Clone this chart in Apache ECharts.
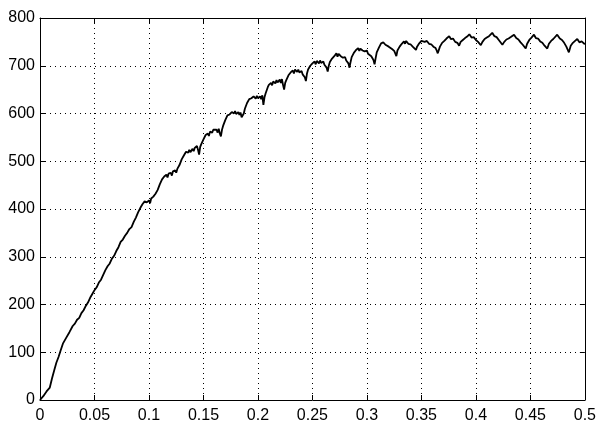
<!DOCTYPE html>
<html>
<head>
<meta charset="utf-8">
<script src="https://cdn.jsdelivr.net/npm/echarts@6/dist/echarts.min.js"></script>
<style>
html,body{margin:0;padding:0;background:#fff;}
#chart{width:599px;height:426px;}
</style>
</head>
<body>
<div id="chart"></div>
<script>
var xTicks = [0, 0.05, 0.1, 0.15, 0.2, 0.25, 0.3, 0.35, 0.4, 0.45, 0.5];
var yTicks = [0, 100, 200, 300, 400, 500, 600, 700, 800];
var timeValues = [
0,0.003,0.006,0.009,0.011,0.013,0.015,0.017,0.019,0.021,0.024,0.027,0.030,0.032,0.034,0.036,0.038,0.040,0.042,0.044,0.046,0.048,0.050,0.052,0.054,0.056,0.058,0.060,0.062,0.064,0.066,0.068,0.070,0.072,0.074,0.076,0.078,0.080,0.082,0.084,0.086,0.088,0.090,0.092,
0.094,0.096,0.097,0.098,0.100,0.101,0.102,0.104,0.106,0.108,0.110,0.112,0.114,0.116,0.117,0.118,0.120,0.121,0.122,0.124,0.125,0.126,0.128,0.130,0.132,0.134,0.136,0.137,0.138,0.140,0.141,0.142,0.144,0.145,0.146,0.147,0.148,0.150,0.152,0.154,0.155,0.156,0.158,0.159,0.160,0.162,0.163,0.164,0.165,0.166,0.167,0.168,0.170,0.172,0.174,0.175,0.176,0.178,0.179,0.180,0.182,0.183,0.184,0.185,0.186,0.187,0.188,0.190,0.192,0.194,0.195,0.196,0.198,0.199,0.200,0.202,0.203,0.204,0.205,0.206,0.207,0.209,0.210,0.212,0.213,0.214,0.216,0.217,0.218,0.220,0.221,0.222,0.223,0.224,0.225,0.226,0.228,0.230,0.232,0.233,0.234,0.236,0.237,0.238,0.240,0.241,0.242,0.243,0.244,0.245,0.246,0.248,0.250,0.252,0.253,0.254,0.256,0.257,0.258,0.260,0.261,0.262,0.263,0.264,0.265,0.266,0.268,0.270,0.272,0.273,0.274,0.276,0.277,0.278,0.280,0.281,0.282,0.283,0.284,0.285,0.286,0.288,0.290,0.292,0.293,0.294,0.296,0.297,0.298,0.300,0.301,0.302,0.304,0.305,0.306,0.307,0.308,0.309,0.311,0.313,0.314,0.315,0.317,0.318,0.320,0.321,0.323,0.325,0.326,0.327,0.328,0.330,0.332,0.334,0.335,0.336,0.338,0.340,0.342,0.343,0.345,0.346,0.348,0.350,0.351,0.353,0.355,0.357,0.359,0.361,0.363,0.364,0.365,0.367,0.369,0.371,0.373,0.3755,0.377,0.379,0.381,0.383,0.3846,0.386,0.388,0.390,0.392,0.394,0.396,0.398,0.400,0.402,0.4045,0.406,0.408,0.410,0.412,0.415,0.417,0.419,0.421,0.4243,0.426,0.428,0.430,0.432,0.435,0.437,0.439,0.441,0.443,0.4457,0.447,0.449,0.451,0.4533,0.455,0.457,0.459,0.461,0.463,0.4655,0.467,0.469,0.471,0.4746,0.477,0.479,0.481,0.483,0.4853,0.487,0.489,0.491,0.493,0.495,0.497,0.500];
var speedValues = [
0,8,18,26,45,62,78,90,104,118,130,142,155,160,168,172,182,188,197,204,214,222,230,236,246,252,262,272,280,286,296,302,312,320,331,336,344,350,358,362,373,382,393,402,
410,416,420,414,418,412,422,426,432,440,452,462,468,472,466,474,476,470,479,481,476,484,492,504,512,520,518,524,519,526,521,528,532,524,514,530,536,546,555,558,553,562,560,566,562,566,560,568,558,552,566,574,586,596,598,594,603,600,605,599,603,597,602,592,588,600,610,622,630,632,628,636,631,637,632,636,630,638,618,634,642,655,660,664,659,667,663,670,665,671,664,672,660,650,664,670,680,686,690,684,692,687,692,686,689,682,686,676,668,684,692,700,705,709,703,710,705,711,706,709,702,706,696,688,700,708,715,720,726,719,725,720,724,717,718,711,714,705,696,708,718,727,733,737,731,736,732,736,730,732,725,728,720,716,712,703,716,728,738,747,743,749,744,747,740,742,735,731,726,720,732,740,746,751,746,752,746,745,740,742,733,740,747,752,756,750,752,746,745,740,737,732,726,740,748,752,757,762,756,757,750,748,742,750,754,758,761,766,759,760,754,750,743,750,756,759,762,769,762,760,754,744,750,755,757,760,765,758,755,749,744,736,746,754,759,765,758,757,751,748,742,736,746,752,756,765,757,754,748,740,728,742,748,752,756,749,751,745];

var seriesData = timeValues.map(function(t, i){ return [t, speedValues[i]]; });
var FONT = "'Liberation Sans Narrow','Arial Narrow','Liberation Sans',Arial,sans-serif";
var gridLine = {show:true, lineStyle:{color:'#000', width:1, type:[1,4]}};
var chart = echarts.init(document.getElementById('chart'), null, {renderer:'canvas'});
chart.setOption({
  animation:false,
  backgroundColor:'#fff',
  grid:{left:40, top:18, right:13, bottom:26, containLabel:false},
  xAxis:[{
    type:'value', min:0, max:0.5, interval:0.05, position:'bottom',
    axisLine:{show:true, onZero:false, lineStyle:{color:'#000', width:1}},
    axisTick:{show:true, inside:true, length:5, lineStyle:{color:'#000'}},
    axisLabel:{color:'#000', fontFamily:FONT, fontSize:16, margin:8,
      formatter:function(v){ var r = Math.round(v*100)/100; return String(r); }},
    splitLine:gridLine
  },{
    type:'value', min:0, max:0.5, interval:0.05, position:'top',
    axisLine:{show:true, onZero:false, lineStyle:{color:'#000', width:1}},
    axisTick:{show:true, inside:true, length:5, lineStyle:{color:'#000'}},
    axisLabel:{show:false}, splitLine:{show:false}
  }],
  yAxis:[{
    type:'value', min:0, max:800, interval:100, position:'left',
    axisLine:{show:true, onZero:false, lineStyle:{color:'#000', width:1}},
    axisTick:{show:true, inside:true, length:5, lineStyle:{color:'#000'}},
    axisLabel:{color:'#000', fontFamily:FONT, fontSize:16, margin:5},
    splitLine:gridLine
  },{
    type:'value', min:0, max:800, interval:100, position:'right',
    axisLine:{show:true, onZero:false, lineStyle:{color:'#000', width:1}},
    axisTick:{show:true, inside:true, length:5, lineStyle:{color:'#000'}},
    axisLabel:{show:false}, splitLine:{show:false}
  }],
  series:[{
    type:'line', data:seriesData, xAxisIndex:0, yAxisIndex:0,
    showSymbol:false, symbol:'none',
    lineStyle:{color:'#000', width:1.8}
  }]
});
</script>
</body>
</html>
